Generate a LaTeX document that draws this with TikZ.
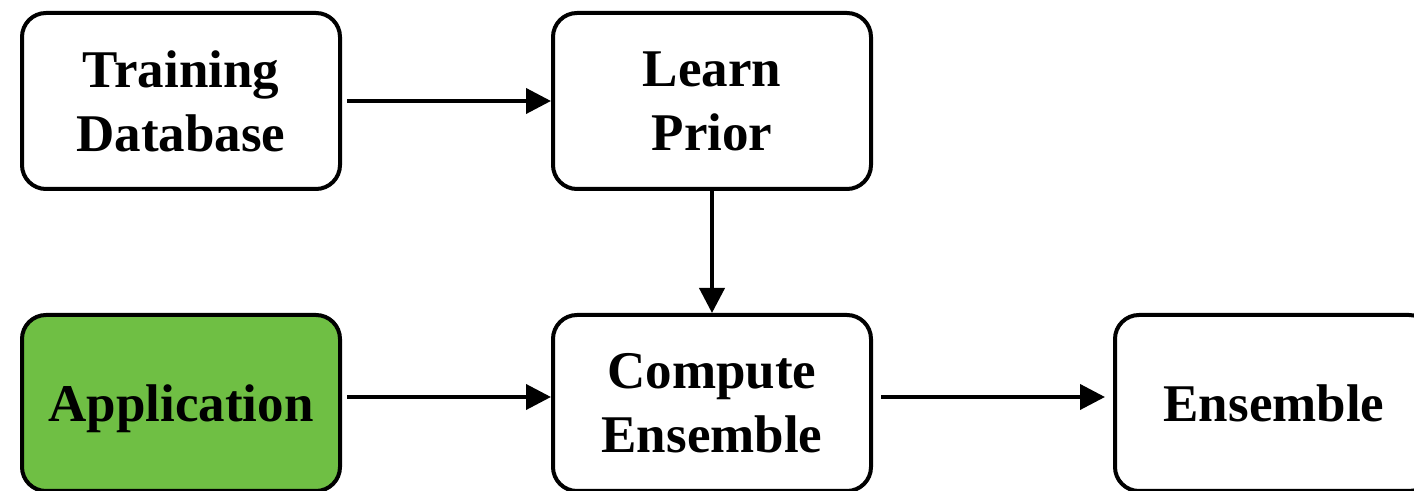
\documentclass[tikz,border=0pt]{standalone}
\usepackage{fontspec}
\setmainfont{Liberation Serif}
\usetikzlibrary{arrows.meta,positioning}
\definecolor{pgreen}{HTML}{6FBF44}
\tikzset{
  >={Triangle[length=12.5pt,width=12.5pt]},
  pbox/.style={rectangle, rounded corners=12pt, draw=black, line width=2pt,
               fill=white, minimum width=159pt, minimum height=88pt,
               align=center, inner sep=0pt,
               font=\fontsize{26.5}{32}\selectfont\bfseries},
  papp/.style={pbox, fill=pgreen, text depth=0pt},
  pflow/.style={->, line width=2pt},
}

\begin{document}
\begin{tikzpicture}[x=0.5pt,y=-0.5pt]

  \useasboundingbox (0,0) rectangle (1414,491);
  \clip (0,0) rectangle (1414,491);

  % --- obere Reihe ---
  \node[pbox] (train) at (181,101) {Training\\Database};
  \node[pbox] (prior) at (712,101) {Learn\\Prior};

  % --- untere Reihe ---
  \node[papp] (app)  at (181,403) {Application};
  \node[pbox] (comp) at (712,403) {Compute\\Ensemble};
  \node[pbox] (ens)  at (1274,403) {Ensemble};

  % Pfeile
  \draw[pflow] ([xshift=2.5pt]train.east) -- (prior.west);
  \draw[pflow] (prior.south) -- (comp.north);
  \draw[pflow] ([xshift=2.5pt,yshift=3pt]app.east) -- ([yshift=3pt]comp.west);
  \draw[pflow] ([xshift=4pt,yshift=3pt]comp.east) -- ([xshift=-4pt,yshift=3pt]ens.west);

\end{tikzpicture}
\end{document}
